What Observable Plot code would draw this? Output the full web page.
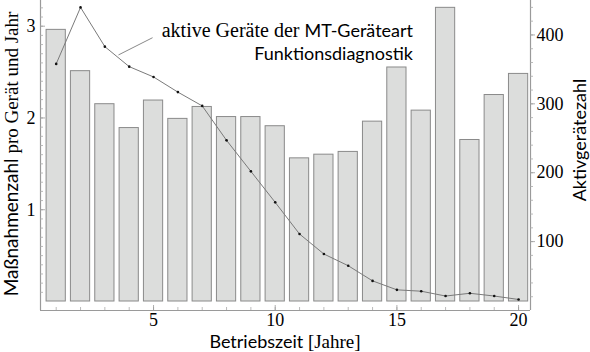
<!DOCTYPE html>
<html><head><meta charset="utf-8">
<script src="https://cdn.jsdelivr.net/npm/d3@7"></script>
<script src="https://cdn.jsdelivr.net/npm/@observablehq/plot@0.6"></script>
<style>body{margin:0;background:#fff;} svg{display:block;}</style>
</head><body><div id="chart"></div>
<script>
const years = [1,2,3,4,5,6,7,8,9,10,11,12,13,14,15,16,17,18,19,20];
const massnahmen = [2.96,2.51,2.15,1.89,2.19,1.99,2.12,2.01,2.01,1.91,1.56,1.60,1.63,1.96,2.55,2.08,3.20,1.76,2.25,2.48];
const aktiv = [358,440,383,354,339,317,297,247,202,157,111,82,65,43,30,28,21,25,21,16];
const xTicks = [5,10,15,20];
const leftTicks = [1,2,3];
const rightTicks = [100,200,300,400];
const leader = [{x1:3.56, a1:371, x2:4.96, a2:396}];

const xDomain = [0.355, 20.49];
const yLo = -0.098, yHi = 3.28;
const rightMax = 450;
const toLeft = v => yLo + v / rightMax * (yHi - yLo);
const fromLeft = y => (y - yLo) / (yHi - yLo) * rightMax;

const table = years.map((year, i) => ({year, m: massnahmen[i], a: aktiv[i]}));
const gridGray = "#9a9a9a";
const sans = "Lato";
const serif = "Liberation Serif";

const plot = Plot.plot({
  width: 590, height: 352,
  marginLeft: 40, marginRight: 60, marginTop: 0, marginBottom: 42,
  x: {domain: xDomain},
  y: {domain: [yLo, yHi]},
  style: {fontFamily: serif, fontSize: "18px", color: "#000", background: "#fff"},
  marks: [
    Plot.rectY(table, {x1: d => d.year - 0.395, x2: d => d.year + 0.395, y1: 0, y2: "m",
      fill: "#dcdddc", stroke: "#8a8a8a", strokeWidth: 1}),
    Plot.line(table, {x: "year", y: d => toLeft(d.a), stroke: "#7a7a7a", strokeWidth: 1}),
    Plot.dot(table, {x: "year", y: d => toLeft(d.a), r: 1.3, fill: "#111", stroke: null}),
    Plot.link(leader, {x1: "x1", y1: d => toLeft(d.a1), x2: "x2", y2: d => toLeft(d.a2), stroke: "#8a8a8a", strokeWidth: 1}),
    // frame
    Plot.ruleX([xDomain[0], xDomain[1]], {stroke: gridGray, strokeWidth: 1.2}),
    Plot.ruleY([yLo], {stroke: gridGray, strokeWidth: 1.2}),
    // left inward ticks
    Plot.tickY(d3.range(1, 33).map(k => k / 10), {y: d => d, stroke: "#aaa", strokeWidth: 0.8, insetRight: 487}),
    Plot.tickY(leftTicks, {y: d => d, stroke: "#999", strokeWidth: 0.8, insetRight: 485}),
    // bottom inward ticks
    Plot.tickX(years, {x: d => d, stroke: "#aaa", strokeWidth: 0.8, insetTop: 307}),
    Plot.tickX(xTicks, {x: d => d, stroke: "#999", strokeWidth: 0.8, insetTop: 305}),
    // right outward ticks
    Plot.tickY(d3.range(20, 441, 20).map(toLeft), {y: d => d, stroke: "#aaa", strokeWidth: 0.8, insetLeft: 490, insetRight: -3}),
    Plot.tickY(rightTicks.map(toLeft), {y: d => d, stroke: "#999", strokeWidth: 0.8, insetLeft: 490, insetRight: -5}),
    Plot.axisY(rightTicks.map(toLeft), {anchor: "right", tickSize: 0, tickPadding: 6,
      tickFormat: d => String(Math.round(fromLeft(d))), label: null, fontSize: 18, fontFamily: serif}),
    Plot.axisY(leftTicks, {anchor: "left", tickSize: 0, tickPadding: 5, tickFormat: d => String(d), label: null, fontSize: 18, fontFamily: serif}),
    Plot.axisX(xTicks, {anchor: "bottom", tickSize: 0, tickPadding: 3, tickFormat: d => String(d), label: null, fontSize: 18, fontFamily: serif})
  ]
});

const svg = d3.select(plot);

// left axis label
const tl = svg.append("text")
  .attr("transform", "translate(18,154) rotate(-90)")
  .attr("text-anchor", "middle").attr("font-size", 19).attr("fill", "#000");
tl.append("tspan").attr("font-family", sans).text("Maßnahmenzahl ");
tl.append("tspan").attr("font-family", serif).text("pro Gerät und Jahr");

// right axis label
svg.append("text")
  .attr("transform", "translate(586,140) rotate(-90)")
  .attr("text-anchor", "middle").attr("font-size", 18).attr("font-family", sans).attr("fill", "#000")
  .text("Aktivgerätezahl");

// x axis label
const tx = svg.append("text")
  .attr("x", 285).attr("y", 348)
  .attr("text-anchor", "middle").attr("fill", "#000");
tx.append("tspan").attr("font-family", sans).attr("font-size", 18).text("Betriebszeit ");
tx.append("tspan").attr("font-family", serif).attr("font-size", 19).text("[Jahre]");

// annotation
const ta = svg.append("text").attr("x", 413).attr("y", 37)
  .attr("text-anchor", "end").attr("fill", "#000");
ta.append("tspan").attr("font-family", serif).attr("font-size", 20).text("aktive Geräte der ");
ta.append("tspan").attr("font-family", sans).attr("font-size", 18).text("MT-Geräteart");
svg.append("text").attr("x", 413).attr("y", 60)
  .attr("text-anchor", "end").attr("font-size", 18).attr("font-family", sans).attr("fill", "#000")
  .text("Funktionsdiagnostik");

document.getElementById("chart").appendChild(plot);
</script>
</body></html>
